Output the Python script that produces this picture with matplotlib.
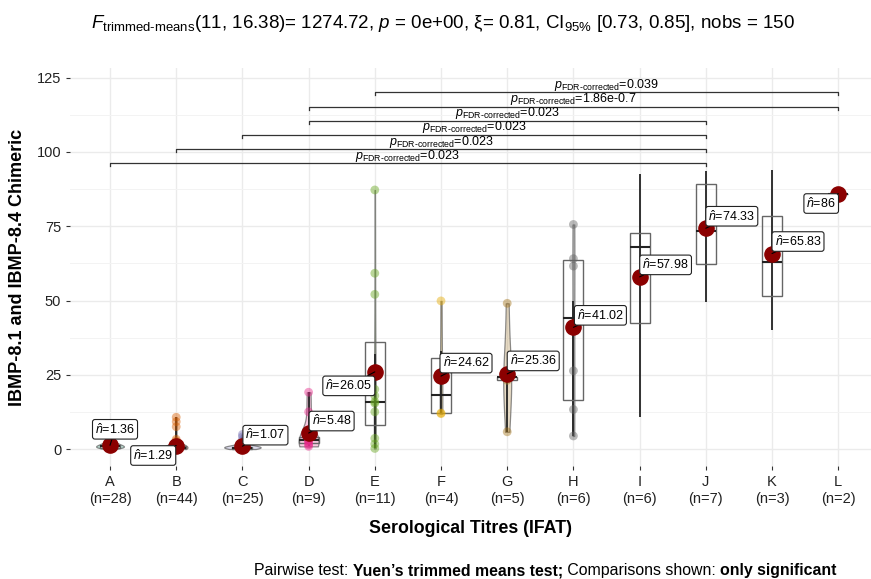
import numpy as np
import matplotlib.pyplot as plt
from matplotlib.patches import Rectangle
from matplotlib.ticker import MultipleLocator
from matplotlib.colors import to_rgba

plt.rcParams['font.family'] = ['Liberation Sans', 'DejaVu Sans']
plt.rcParams['mathtext.fontset'] = 'custom'
plt.rcParams['mathtext.rm'] = 'Liberation Sans'
plt.rcParams['mathtext.it'] = 'Liberation Sans:italic'
plt.rcParams['mathtext.bf'] = 'Liberation Sans:bold'

# ---- data ----
groups = ["A", "B", "C", "D", "E", "F", "G", "H", "I", "J", "K", "L"]
counts = [28, 44, 25, 9, 11, 4, 5, 6, 6, 7, 3, 2]
colors = ["#1B9E77", "#D95F02", "#7570B3", "#E7298A",
          "#66A61E", "#E6AB02", "#A6761D", "#666666"]  # Dark2, I-L have no colour

pts_A = [0.2, 0.3, 0.4, 0.5, 0.5, 0.6, 0.7, 0.8, 0.8, 0.9, 1.0, 1.0, 1.1, 1.2,
         1.2, 1.3, 1.4, 1.5, 1.6, 1.7, 1.8, 1.9, 2.0, 2.2, 2.4, 2.5, 2.8, 3.0]
pts_B = [10.8, 9.3, 7.6, 3.4, 2.8, 0.1, 0.1, 0.2, 0.2, 0.2, 0.3, 0.3, 0.3, 0.4,
         0.4, 0.4, 0.5, 0.5, 0.5, 0.5, 0.6, 0.6, 0.6, 0.6, 0.7, 0.7, 0.7, 0.8,
         0.8, 0.8, 0.8, 0.9, 0.9, 0.9, 1.0, 1.0, 1.0, 1.0, 1.1, 1.1, 1.2, 1.2,
         1.2, 1.3]
pts_C = [5.0, 4.2, 3.0, 0.1, 0.2, 0.2, 0.3, 0.4, 0.4, 0.5, 0.5, 0.6, 0.6, 0.7,
         0.7, 0.7, 0.8, 0.8, 0.9, 0.9, 1.0, 1.0, 1.1, 1.2, 1.3]
pts_D = [19.2, 12.6, 4.2, 3.2, 3.0, 2.6, 2.0, 1.5, 1.0]
pts_E = [87.2, 59.2, 52.1, 20.2, 18.0, 16.0, 15.5, 12.6, 3.7, 1.8, 0.3]
pts_F = [49.9, 24.4, 12.2, 12.0]
pts_G = [49.1, 24.4, 24.2, 23.2, 5.9]
pts_H = [75.6, 64.1, 61.6, 26.4, 13.4, 4.5]
points = [pts_A, pts_B, pts_C, pts_D, pts_E, pts_F, pts_G, pts_H]

means = [1.36, 1.29, 1.07, 5.48, 26.05, 24.62, 25.36, 41.02, 57.98, 74.33, 65.83, 86]
q1 = [0.5, 0.3, 0.2, 2.0, 8.1, 12.05, 23.2, 16.6, 42.4, 62.3, 51.5, 86]
med = [1.0, 0.6, 0.5, 3.0, 16.0, 18.3, 24.2, 44.2, 67.9, 73.4, 63.1, 86]
q3 = [1.6, 1.0, 0.9, 4.2, 36.2, 30.8, 24.4, 63.6, 72.6, 89.1, 78.4, 86]
whis_lo = [0.2, 0.1, 0.1, 1.0, 0.3, 12.0, 5.9, 4.5, 11.0, 49.4, 40.1, 86]
whis_hi = [2.5, 10.8, 4.2, 19.2, 32.0, 33.0, 25.0, 50.0, 92.4, 93.5, 93.9, 86]

# significant pairwise comparisons (group i, group j, p label)
pairs_i = [0, 1, 2, 3, 3, 4]
pairs_j = [9, 9, 9, 9, 11, 11]
pairs_p = ["0.023", "0.023", "0.023", "0.023", "1.86e-0.7", "0.039"]
pairs_y = [96.1, 100.9, 105.8, 110.5, 115.2, 120.0]

# label offsets (pixels) of the mean labels
lab_dx = [5, -23, 23, 23, -26, 25, 26, 27, 26, 26, 26, -17]
lab_dy = [16, -10, 11, 12, -14, 13, 13, 12, 12, 12, 12, -10]

fig = plt.figure(figsize=(8.71, 5.79), dpi=100)
ax = fig.add_axes([70.3 / 871, 1 - 466 / 579, 801 / 871, 398 / 579])
x = np.arange(len(groups))

# grid
ax.set_axisbelow(True)
ax.yaxis.set_major_locator(MultipleLocator(25))
ax.yaxis.set_minor_locator(MultipleLocator(12.5))
ax.grid(which='major', color='#EBEBEB', lw=1.0)
ax.grid(which='minor', axis='y', color='#F3F3F3', lw=0.7)
for s in ax.spines.values():
    s.set_visible(False)

# violins (only groups with colours)
vw = [0.42, 0.34, 0.55, 0.3, 0.03, 0.04, 0.12, 0.03]
vp = ax.violinplot(points, positions=x[:8], widths=vw, showextrema=False)
for body, c in zip(vp['bodies'], colors):
    body.set_alpha(None)
    body.set_facecolor(to_rgba(c, 0.25))
    body.set_edgecolor(to_rgba('#444444', 0.6))
    body.set_linewidth(0.9)

# points
for i, p in enumerate(points):
    ax.scatter(np.full(len(p), x[i]), p, s=40, color=colors[i], alpha=0.45,
               edgecolors='none', zorder=3)

# whiskers + boxes
bw = 0.3
for i in range(len(groups)):
    ax.vlines(x[i], whis_lo[i], whis_hi[i], color='#222222', lw=1.3, zorder=2)
    ax.add_patch(Rectangle((x[i] - bw / 2, q1[i]), bw, q3[i] - q1[i], fill=False,
                           ec='#666666', lw=1.0, zorder=2))
    ax.hlines(med[i], x[i] - bw / 2, x[i] + bw / 2, color='#222222', lw=1.5, zorder=2)

# means and labels
ax.scatter(x, means, s=120, color='#8B0000', zorder=5)
for i in range(len(groups)):
    lab = r'$\hat{n}$' + '={:g}'.format(means[i])
    ax.annotate(lab, xy=(x[i], means[i]), xytext=(lab_dx[i], lab_dy[i]),
                textcoords='offset pixels', ha='center', va='center', fontsize=9,
                bbox=dict(boxstyle='round,pad=0.2', fc='white', ec='#222222', lw=0.8),
                arrowprops=dict(arrowstyle='-', color='black', lw=0.8,
                                shrinkA=0, shrinkB=0), zorder=6)

# brackets
for a, b, p, yv in zip(pairs_i, pairs_j, pairs_p, pairs_y):
    ax.plot([x[a], x[a], x[b], x[b]], [yv - 1, yv, yv, yv - 1], color='#333333', lw=0.9)
    ax.text((x[a] + x[b]) / 2, yv - 0.2, r'$p_{\mathrm{FDR\text{-}corrected}}$=' + p,
            ha='center', va='bottom', fontsize=9)

ax.set_xlim(-0.6, 11.5)
ax.set_ylim(-5.6, 128.2)
ax.set_xticks(x)
ax.set_xticklabels(["{}\n(n={})".format(g, n) for g, n in zip(groups, counts)],
                   linespacing=1.3)
ax.tick_params(axis='both', labelsize=10.5, color='#333333', length=3, width=0.8,
               labelcolor='#222222')
ax.tick_params(axis='y', which='minor', length=0)
ax.set_xlabel("Serological Titres (IFAT)", fontsize=12.8, fontweight='bold', labelpad=10)
ax.set_ylabel("IBMP-8.1 and IBMP-8.4 Chimeric", fontsize=13, fontweight='bold', labelpad=8)

fig.text(0.508, 1 - 24 / 579,
         r'$F_{\mathrm{trimmed\text{-}means}}$(11, 16.38)= 1274.72, $p$ = 0e+00, ξ= 0.81, '
         r'CI$_{95\%}$ [0.73, 0.85], nobs = 150', ha='center', va='center', fontsize=13.5)

# caption with bold pieces, chained one after another
pieces = [("Pairwise test: ", 'normal'), ("Yuen’s trimmed means test;", 'bold'),
          (" Comparisons shown: ", 'normal'), ("only significant", 'bold')]
t = fig.text(254 / 871, 1 - 578 / 579, pieces[0][0], fontsize=11.4, va='bottom')
for txt, wgt in pieces[1:]:
    t = ax.annotate(txt, xy=(1, 0), xycoords=t, fontsize=11.4, fontweight=wgt,
                    ha='left', va='bottom')

fig.savefig("out.png", dpi=100)
